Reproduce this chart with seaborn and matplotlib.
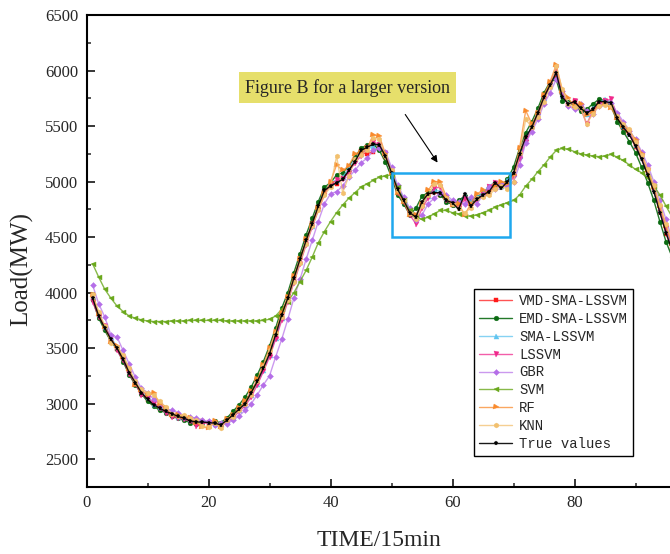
import numpy as np
import pandas as pd
import seaborn as sns
import matplotlib.pyplot as plt
from matplotlib.patches import Rectangle
from matplotlib.ticker import MultipleLocator, FixedLocator
from matplotlib.colors import to_rgba

# ---------------- data ----------------
time = list(range(1, 97))

true_values = [3950, 3790, 3680, 3580, 3500, 3400, 3280, 3190, 3100, 3040,
               2990, 2960, 2930, 2910, 2885, 2870, 2845, 2835, 2835, 2830,
               2825, 2810, 2850, 2900, 2950, 3000, 3100, 3200, 3320, 3450,
               3620, 3800, 3950, 4130, 4300, 4470, 4620, 4780, 4920, 4960,
               4990, 5020, 5100, 5180, 5280, 5310, 5335, 5330, 5230, 5080,
               4930, 4830, 4720, 4680, 4820, 4890, 4900, 4900, 4830, 4810,
               4750, 4890, 4780, 4840, 4880, 4910, 4990, 4940, 5000, 5080,
               5250, 5400, 5490, 5620, 5760, 5870, 5980, 5760, 5700, 5720,
               5660, 5620, 5650, 5720, 5720, 5710, 5570, 5490, 5420, 5320,
               5200, 5060, 4910, 4720, 4540, 4380]

vmd_sma_lssvm = [3940, 3800, 3670, 3590, 3490, 3410, 3290, 3180, 3110, 3030,
                 2995, 2950, 2940, 2900, 2890, 2860, 2850, 2830, 2840, 2825,
                 2830, 2815, 2845, 2890, 2960, 3010, 3090, 3210, 3310, 3460,
                 3600, 3790, 3960, 4120, 4310, 4460, 4630, 4770, 4910, 4970,
                 4980, 5030, 5090, 5190, 5260, 5250, 5270, 5310, 5220, 5090,
                 4920, 4840, 4730, 4690, 4800, 4880, 4910, 4880, 4840, 4790,
                 4780, 4860, 4800, 4850, 4870, 4930, 4960, 4950, 4990, 5060,
                 5240, 5410, 5480, 5610, 5770, 5880, 5940, 5800, 5690, 5730,
                 5650, 5630, 5640, 5700, 5730, 5690, 5580, 5480, 5430, 5310,
                 5210, 5050, 4920, 4730, 4530, 4390]

emd_sma_lssvm = [3930, 3770, 3660, 3560, 3490, 3380, 3260, 3170, 3090, 3020,
                 2980, 2940, 2920, 2890, 2870, 2850, 2830, 2820, 2830, 2835,
                 2840, 2830, 2870, 2930, 2990, 3060, 3150, 3260, 3380, 3520,
                 3680, 3860, 4000, 4180, 4350, 4520, 4670, 4820, 4950, 4990,
                 5060, 5080, 5140, 5220, 5300, 5330, 5340, 5280, 5180, 5040,
                 4880, 4800, 4700, 4760, 4870, 4900, 4920, 4880, 4820, 4790,
                 4830, 4870, 4830, 4860, 4900, 4950, 4980, 4960, 5020, 5130,
                 5300, 5440, 5540, 5660, 5800, 5900, 5920, 5730, 5720, 5680,
                 5640, 5650, 5700, 5740, 5730, 5680, 5540, 5450, 5360, 5260,
                 5130, 4990, 4830, 4640, 4460, 4320]

sma_lssvm = [3960, 3810, 3690, 3600, 3510, 3420, 3300, 3200, 3120, 3060,
             3000, 2970, 2940, 2920, 2880, 2880, 2860, 2840, 2830, 2840,
             2820, 2820, 2840, 2880, 2940, 2990, 3080, 3180, 3300, 3440,
             3590, 3770, 3940, 4110, 4280, 4450, 4600, 4760, 4900, 5000,
             5010, 5040, 5120, 5200, 5250, 5290, 5320, 5350, 5250, 5100,
             4950, 4850, 4740, 4700, 4790, 4870, 4930, 4910, 4850, 4820,
             4780, 4880, 4820, 4860, 4900, 4960, 5000, 4960, 5010, 5070,
             5230, 5390, 5500, 5630, 5750, 5860, 5990, 5780, 5710, 5700,
             5680, 5610, 5660, 5710, 5740, 5720, 5590, 5500, 5440, 5330,
             5220, 5080, 4930, 4740, 4560, 4400]

lssvm = [3920, 3780, 3700, 3600, 3480, 3390, 3270, 3180, 3080, 3050,
         3010, 2960, 2920, 2880, 2870, 2860, 2840, 2800, 2820, 2830,
         2810, 2800, 2830, 2870, 2930, 2980, 3060, 3170, 3290, 3420,
         3580, 3750, 3920, 4090, 4260, 4430, 4590, 4740, 4880, 4980,
         5010, 5020, 5080, 5170, 5230, 5300, 5360, 5330, 5260, 5080,
         4900, 4820, 4700, 4620, 4760, 4850, 4940, 4950, 4830, 4800,
         4760, 4840, 4780, 4830, 4880, 4950, 4990, 4970, 4960, 5040,
         5200, 5360, 5470, 5600, 5740, 5880, 6020, 5790, 5680, 5730,
         5660, 5520, 5630, 5700, 5730, 5740, 5600, 5520, 5450, 5340,
         5230, 5100, 4950, 4760, 4580, 4420]

gbr = [4070, 3900, 3780, 3620, 3600, 3480, 3360, 3240, 3140, 3100,
       3040, 3000, 2950, 2940, 2920, 2880, 2880, 2870, 2850, 2840,
       2810, 2830, 2820, 2850, 2890, 2940, 3000, 3080, 3170, 3250,
       3420, 3580, 3760, 3950, 4120, 4300, 4470, 4640, 4800, 4890,
       4910, 4960, 5040, 5100, 5170, 5210, 5280, 5300, 5270, 5130,
       4970, 4860, 4760, 4650, 4700, 4800, 4850, 4900, 4880, 4830,
       4820, 4800, 4860, 4800, 4880, 4950, 4930, 4990, 4960, 5000,
       5150, 5350, 5450, 5560, 5700, 5800, 5920, 5820, 5680, 5650,
       5700, 5640, 5610, 5680, 5720, 5710, 5620, 5540, 5460, 5380,
       5270, 5150, 5000, 4830, 4660, 4480]

svm = [4260, 4140, 4030, 3950, 3880, 3830, 3790, 3770, 3755, 3745,
       3740, 3740, 3740, 3745, 3745, 3745, 3750, 3750, 3750, 3750,
       3750, 3750, 3745, 3745, 3745, 3745, 3745, 3745, 3750, 3760,
       3790, 3850, 3920, 4000, 4100, 4200, 4320, 4450, 4550, 4640,
       4720, 4790, 4850, 4900, 4950, 4980, 5010, 5040, 5050, 5060,
       4950, 4830, 4740, 4680, 4660, 4680, 4710, 4740, 4740, 4720,
       4710, 4690, 4690, 4700, 4720, 4740, 4770, 4790, 4810, 4830,
       4880, 4960, 5020, 5090, 5150, 5220, 5280, 5300, 5290, 5270,
       5250, 5240, 5230, 5225, 5230, 5245, 5220, 5190, 5150, 5110,
       5080, 5030, 4960, 4880, 4780, 4680]

rf = [3980, 3810, 3690, 3560, 3520, 3420, 3310, 3170, 3120, 3080,
      3100, 3000, 2960, 2900, 2900, 2880, 2870, 2830, 2790, 2780,
      2840, 2790, 2860, 2900, 2960, 3020, 3110, 3220, 3350, 3500,
      3650, 3820, 3960, 4150, 4300, 4480, 4600, 4760, 4890, 5000,
      5150, 5100, 5140, 5250, 5270, 5300, 5420, 5410, 5250, 5080,
      4900, 4820, 4700, 4700, 4800, 4920, 5000, 5000, 4860, 4790,
      4800, 4700, 4800, 4890, 4920, 4890, 4960, 5000, 4980, 5060,
      5300, 5640, 5520, 5620, 5780, 5900, 6050, 5820, 5750, 5680,
      5700, 5600, 5630, 5680, 5700, 5660, 5570, 5500, 5460, 5370,
      5250, 5100, 4950, 4780, 4600, 4440]

knn = [3990, 3830, 3700, 3550, 3510, 3440, 3320, 3200, 3130, 3100,
       3080, 3020, 2970, 2910, 2890, 2900, 2870, 2850, 2800, 2790,
       2830, 2780, 2850, 2880, 2940, 3000, 3080, 3200, 3340, 3480,
       3640, 3780, 3930, 4100, 4270, 4440, 4600, 4740, 4880, 4950,
       5230, 4900, 5050, 5200, 5240, 5280, 5390, 5380, 5230, 5100,
       4920, 4830, 4720, 4660, 4780, 4880, 4980, 4970, 4850, 4800,
       4760, 4720, 4760, 4850, 4860, 4880, 4930, 4960, 4930, 5000,
       5260, 5560, 5490, 5580, 5720, 5850, 6040, 5830, 5700, 5670,
       5660, 5520, 5610, 5680, 5690, 5680, 5590, 5520, 5470, 5360,
       5240, 5110, 4970, 4790, 4620, 4460]

series_names = ["VMD-SMA-LSSVM", "EMD-SMA-LSSVM", "SMA-LSSVM", "LSSVM",
                "GBR", "SVM", "RF", "KNN", "True values"]
series_values = [vmd_sma_lssvm, emd_sma_lssvm, sma_lssvm, lssvm,
                 gbr, svm, rf, knn, true_values]
x_tick_values = [0, 20, 40, 60, 80]

# ---------------- styling ----------------
colors = ["#ff1a1a", "#0b6b12", "#5ec4f0", "#f0288c",
          "#b56ee8", "#6aa81c", "#f98a2c", "#f2c06e", "#000000"]
markers = ["s", "o", "^", "v", "D", "<", ">", "h", "*"]
msizes = [3.2, 3.4, 3.6, 3.6, 3.0, 3.6, 3.6, 3.6, 3.6]
line_alpha = [0.75, 0.9, 0.75, 0.75, 0.7, 0.8, 0.75, 0.75, 0.9]

sns.set_style("ticks")
plt.rcParams['font.family'] = ['Liberation Serif', 'DejaVu Serif']

fig = plt.figure(figsize=(6.7, 5.54), dpi=100)
fig.patch.set_facecolor("white")
# axes extends past the right figure edge (reference is cropped)
ax = fig.add_axes([86.5 / 670, 67 / 554, 610 / 670, 472 / 554])

for i, (name, vals) in enumerate(zip(series_names, series_values)):
    df = pd.DataFrame({"time": time, "load": vals})
    sns.lineplot(data=df, x="time", y="load", ax=ax, label=name,
                 color=colors[i], marker=markers[i], markersize=msizes[i],
                 linewidth=1.0, markeredgewidth=0.3,
                 zorder=10 if name == "True values" else 2 + i)
    ln = ax.lines[-1]
    ln.set_color(to_rgba(colors[i], line_alpha[i]))
    ln.set_markerfacecolor(colors[i])
    ln.set_markeredgecolor(colors[i])

ax.set_xlim(0, 100)
ax.set_ylim(2250, 6500)
ax.xaxis.set_major_locator(FixedLocator(x_tick_values))
ax.xaxis.set_minor_locator(FixedLocator([10, 30, 50, 70, 90]))
ax.yaxis.set_major_locator(MultipleLocator(500))
ax.yaxis.set_minor_locator(MultipleLocator(250))
ax.tick_params(which="major", direction="in", length=6, width=1.3,
               labelsize=12, top=False, right=False, pad=6)
ax.tick_params(which="minor", direction="in", length=3, width=1.1,
               top=False, right=False)
for s in ax.spines.values():
    s.set_linewidth(1.5)
    s.set_color("black")

ax.set_xlabel("TIME/15min", fontsize=17)
ax.set_ylabel("Load(MW)", fontsize=18)
ax.xaxis.label.set_va("center")
ax.xaxis.set_label_coords(292 / 610, (487 - 541) / 472)
ax.yaxis.label.set_va("center")
ax.yaxis.label.set_ha("center")
ax.yaxis.set_label_coords((22 - 86.5) / 610, (487 - 269) / 472)

# zoom rectangle
ax.add_patch(Rectangle((50, 4500), 19.5, 575, fill=False,
                       edgecolor="#1fa8ee", linewidth=1.8, zorder=20))
# annotation
ax.text(42.8, 5845, "Figure B for a larger version", fontsize=13,
        ha="center", va="center", zorder=21,
        bbox=dict(boxstyle="square,pad=0.35", facecolor="#e6df6b",
                  edgecolor="none"))
ax.annotate("", xy=(57.8, 5150), xytext=(52.0, 5625),
            arrowprops=dict(arrowstyle="-|>", color="black", lw=0.8,
                            mutation_scale=10), zorder=21)

handles, labels = ax.get_legend_handles_labels()
leg = ax.legend(handles, labels, loc="upper left",
                bbox_to_anchor=(474 / 670, 1 - 289 / 554),
                bbox_transform=fig.transFigure,
                prop={"family": "Liberation Mono", "size": 10},
                frameon=True, fancybox=False, framealpha=1,
                edgecolor="black", borderaxespad=0, handlelength=2.4,
                handletextpad=0.5, labelspacing=0.28, borderpad=0.35)
leg.get_frame().set_linewidth(1.0)
leg.set_zorder(30)

fig.savefig("out.png", dpi=100)
